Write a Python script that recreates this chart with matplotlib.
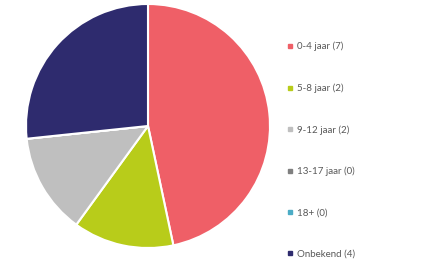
import matplotlib
matplotlib.use("Agg")
import matplotlib.pyplot as plt
from matplotlib.lines import Line2D

categories = ["0-4 jaar", "5-8 jaar", "9-12 jaar", "13-17 jaar", "18+", "Onbekend"]
values = [7, 2, 2, 0, 0, 4]
colors = ["#EF5F67", "#B8CC1A", "#BFBFBF", "#7F7F7F", "#4BACC6", "#2E2B6E"]

fig = plt.figure(figsize=(4.32, 2.63), dpi=100)
ax = fig.add_axes([26/432, 14/263, 244/432, 246/263])
ax.pie(values, colors=colors, startangle=90, counterclock=False, radius=1,
       wedgeprops=dict(edgecolor="white", linewidth=1.5))
ax.set_xlim(-1.0, 1.0)
ax.set_ylim(-1.0, 1.0)
ax.set_aspect("equal")
ax.axis("off")

handles = [Line2D([0], [0], marker="s", linestyle="none", markersize=3,
                  markerfacecolor=c, markeredgecolor=c) for c in colors]
labels = [f"{c} ({v})" for c, v in zip(categories, values)]
leg = fig.legend(handles, labels, loc="upper left", bbox_to_anchor=(283/432, 1 - 38/263),
                 frameon=False, fontsize=7, handlelength=0.6, handletextpad=0.4,
                 labelspacing=3.3, borderaxespad=0)
for t in leg.get_texts():
    t.set_color("#595959")
    t.set_family("Lato")

fig.savefig("out.png", dpi=100, facecolor="white")
